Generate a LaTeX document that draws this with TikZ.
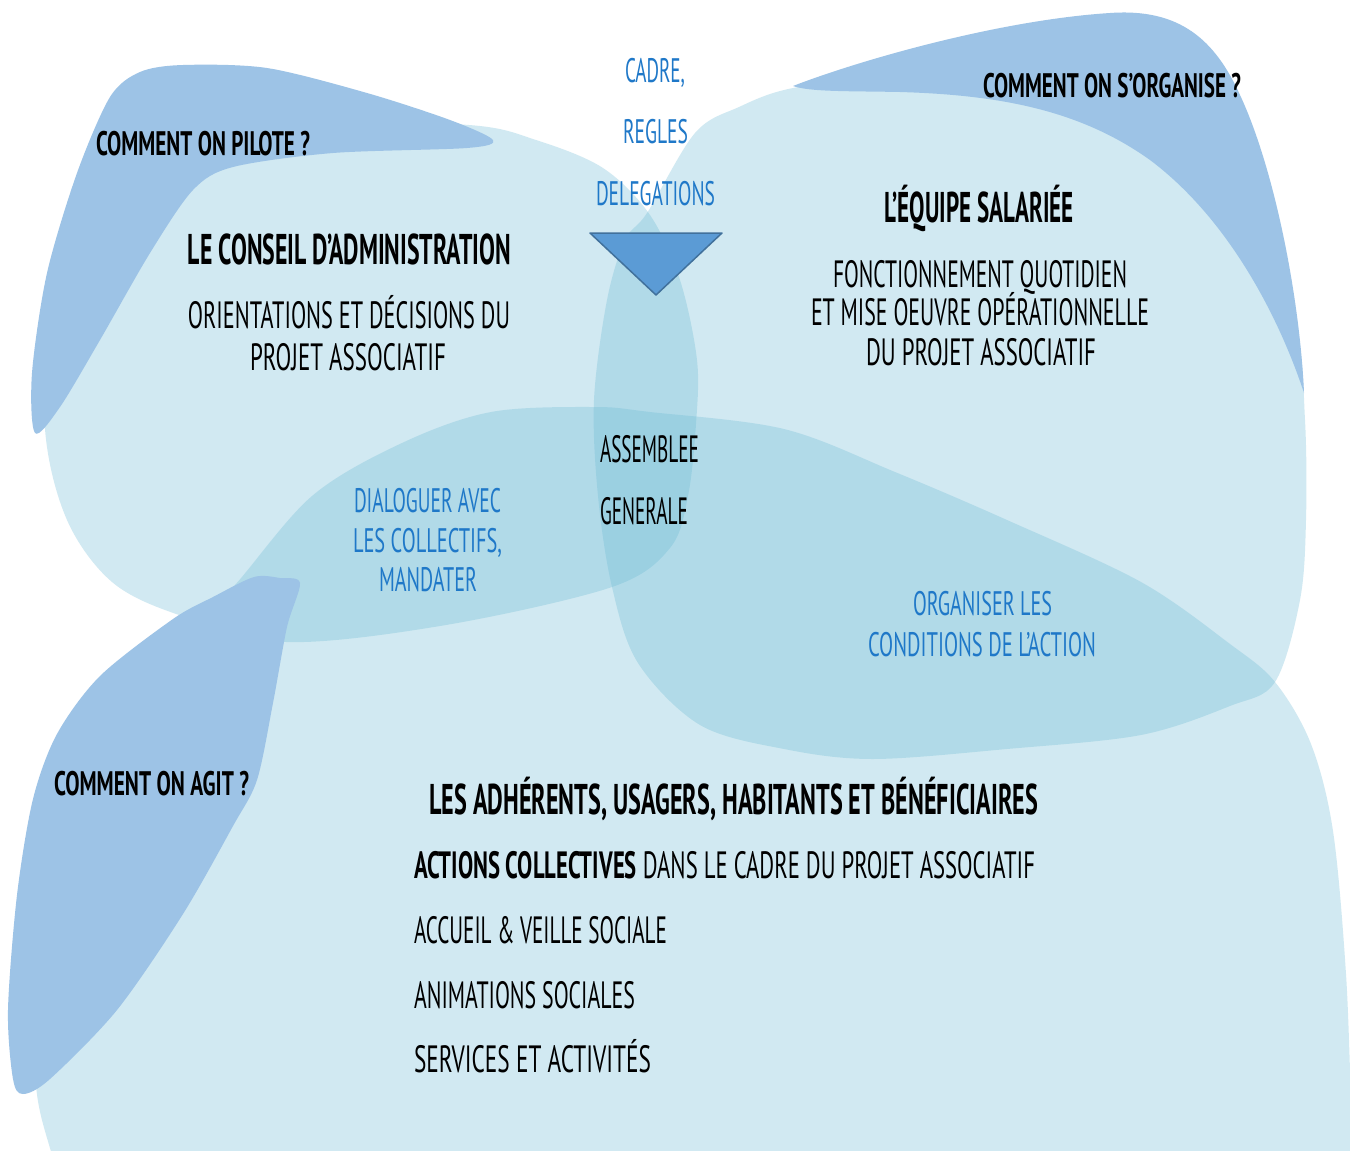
\documentclass[tikz,border=0pt]{standalone}
\usepackage{fontspec}
\usepackage{graphicx}
\newfontfamily\hand{PT Sans}
\definecolor{blobc}{RGB}{105,185,212}
\definecolor{darkb}{RGB}{157,195,230}
\definecolor{tri}{RGB}{91,155,213}
\definecolor{trib}{RGB}{65,113,156}
\definecolor{bluetxt}{RGB}{31,120,200}
\newcommand\fw[2]{\resizebox{#1pt}{\height}{#2}}
\begin{document}
\begin{tikzpicture}[x=1pt,y=-1pt,
  blob/.style={fill=blobc, fill opacity=0.3},
  dblob/.style={fill=darkb},
  txt/.style={inner sep=0pt, outer sep=0pt, anchor=base},
  reg/.style={txt, font=\hand\fontsize{38}{40}\selectfont},
  hd/.style={txt, font=\hand\bfseries\fontsize{43}{46}\selectfont},
  qq/.style={txt, font=\hand\bfseries\fontsize{34}{36}\selectfont},
  bl/.style={txt, text=bluetxt, font=\hand\fontsize{34}{36}\selectfont}]
\useasboundingbox (0,0) rectangle (1350,1151);
\fill[white] (0,0) rectangle (1350,1151);
\clip (0,0) rectangle (1350,1151);
% light blobs
\fill[blob] plot[smooth cycle, tension=0.55] coordinates {(45,429) (50,300) (80,200) (150,140) (300,122) (469,125) (536,140) (603,168) (650,215) (680,280) (697,360) (696,424) (688,496) (670,548) (612,587) (446,625) (286,642) (179,615) (112,582) (67,520)};
\fill[blob] plot[smooth cycle, tension=0.55] coordinates {(647,213) (695,133) (739,107) (793,88) (900,75) (1050,72) (1170,110) (1250,200) (1295,320) (1305,420) (1306,520) (1300,600) (1275,682) (1230,706) (1141,735) (1007,749) (873,759) (784,749) (700,725) (638,663) (612,587) (598,496) (594,400) (607,300) (625,240)};
\fill[blob] plot[smooth cycle, tension=0.55] coordinates {(235,585) (312,496) (402,443) (491,412) (594,407) (650,412) (784,429) (895,472) (1007,520) (1141,582) (1230,644) (1275,682) (1311,744) (1333,831) (1346,974) (1352,1120) (1360,1230) (700,1270) (80,1240) (52,1155) (36,1085) (38,980) (55,880) (95,790) (145,700) (190,630)};
% darker question blobs
\fill[dblob] plot[smooth cycle, tension=0.5] coordinates {(110,97) (140,72) (183,65) (267,68) (367,93) (450,120) (493,140) (467,148) (333,153) (233,167) (193,190) (150,253) (100,340) (60,407) (35,433) (32,373) (47,273) (77,173)};
\fill[dblob] (793,86) .. controls (860,60) and (1000,20) .. (1110,13)
  .. controls (1180,8) and (1215,40) .. (1240,95)
  .. controls (1275,170) and (1300,300) .. (1304,393)
  .. controls (1280,320) and (1230,220) .. (1150,160)
  .. controls (1080,110) and (1000,95) .. (900,92)
  .. controls (850,91) and (810,92) .. cycle;
\fill[dblob] plot[smooth cycle, tension=0.5] coordinates {(173,619) (213,597) (254,577) (280,578) (300,583) (287,627) (273,703) (257,780) (233,826) (183,914) (117,1010) (50,1079) (23,1094) (13,1079) (8,1010) (17,895) (33,799) (57,734) (100,676)};
% triangle
\fill[tri, draw=trib, line width=1.5pt, line join=round] (590,233) -- (722,233) -- (656,295) -- cycle;
% texts
\node[qq, anchor=base west] (qpil) at (96,155) {\fw{214}{COMMENT ON PILOTE ?}};
\node[qq, anchor=base west] (qorg) at (983,97) {\fw{258}{COMMENT ON S’ORGANISE ?}};
\node[qq, anchor=base west] (qagi) at (54,795) {\fw{195}{COMMENT ON AGIT ?}};
\node[bl] (cadre) at (655,82) {\fw{60}{CADRE,}};
\node[bl] (regles) at (655.5,143) {\fw{65}{REGLES}};
\node[bl] (deleg) at (655.5,205) {\fw{119}{DELEGATIONS}};
\node[hd] (ca) at (349.5,264) {\fw{323}{LE CONSEIL D’ADMINISTRATION}};
\node[reg] (ca1) at (349,328) {\fw{322}{ORIENTATIONS ET DÉCISIONS DU}};
\node[reg] (ca2) at (348,370) {\fw{196}{PROJET ASSOCIATIF}};
\node[hd] (eq) at (979,222) {\fw{190}{L’ÉQUIPE SALARIÉE}};
\node[reg] (eq1) at (980,287) {\fw{294}{FONCTIONNEMENT QUOTIDIEN}};
\node[reg] (eq2) at (980,325) {\fw{338}{ET MISE OEUVRE OPÉRATIONNELLE}};
\node[reg] (eq3) at (981,365) {\fw{230}{DU PROJET ASSOCIATIF}};
\node[reg, anchor=base west] (ag1) at (600,462) {\fw{99}{ASSEMBLEE}};
\node[reg, anchor=base west] (ag2) at (600,524) {\fw{88}{GENERALE}};
\node[bl] (dia1) at (427.5,512) {\fw{147}{DIALOGUER AVEC}};
\node[bl] (dia2) at (427.5,552) {\fw{149}{LES COLLECTIFS,}};
\node[bl] (dia3) at (428,591) {\fw{98}{MANDATER}};
\node[bl] (org1) at (982.5,615) {\fw{139}{ORGANISER LES}};
\node[bl] (org2) at (982,656) {\fw{228}{CONDITIONS DE L’ACTION}};
\node[hd, anchor=base west] (adh) at (429,814) {\fw{609}{LES ADHÉRENTS, USAGERS, HABITANTS ET BÉNÉFICIAIRES}};
\node[reg, anchor=base west] (l1) at (414,878) {\fw{621}{{\bfseries ACTIONS COLLECTIVES} DANS LE CADRE DU PROJET ASSOCIATIF}};
\node[reg, anchor=base west] (l2) at (414,943) {\fw{253}{ACCUEIL \& VEILLE SOCIALE}};
\node[reg, anchor=base west] (l3) at (414,1008) {\fw{221}{ANIMATIONS SOCIALES}};
\node[reg, anchor=base west] (l4) at (414,1072) {\fw{237}{SERVICES ET ACTIVITÉS}};
\end{tikzpicture}
\end{document}
